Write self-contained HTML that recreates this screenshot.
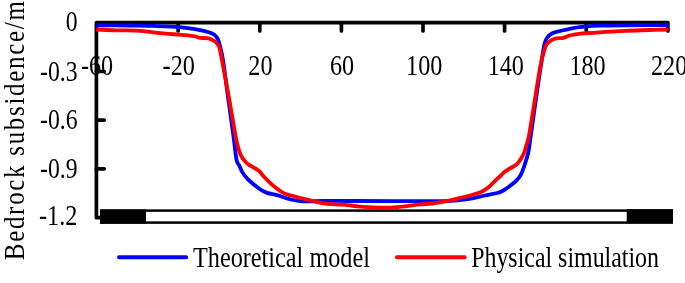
<!DOCTYPE html>
<html><head><meta charset="utf-8"><title>Bedrock subsidence</title>
<style>
html,body{margin:0;padding:0;background:#fff;}
svg{display:block;}
text{font-family:"Liberation Serif","Times New Roman",serif;font-size:30.2px;fill:#000;}
text.lg{font-size:29px;}
</style></head><body>
<svg width="685" height="283" viewBox="0 0 685 283">
<rect width="685" height="283" fill="#fff"/>
<g stroke="#000" stroke-width="3.7" stroke-linecap="butt" stroke-linejoin="miter" fill="none">
<path d="M104.2 217.7H96.4V22.6H667.9V30.9" stroke-linejoin="round" stroke-linecap="round"/>
<line x1="178.1" y1="22.9" x2="178.1" y2="30.9" stroke-linecap="round"/><line x1="259.8" y1="22.9" x2="259.8" y2="30.9" stroke-linecap="round"/><line x1="341.4" y1="22.9" x2="341.4" y2="30.9" stroke-linecap="round"/><line x1="423.0" y1="22.9" x2="423.0" y2="30.9" stroke-linecap="round"/><line x1="504.6" y1="22.9" x2="504.6" y2="30.9" stroke-linecap="round"/><line x1="586.3" y1="22.9" x2="586.3" y2="30.9" stroke-linecap="round"/><line x1="96.4" y1="71.5" x2="104.2" y2="71.5" stroke-linecap="round"/><line x1="96.4" y1="120.1" x2="104.2" y2="120.1" stroke-linecap="round"/><line x1="96.4" y1="168.8" x2="104.2" y2="168.8" stroke-linecap="round"/>
</g>
<rect x="101.2" y="210.6" width="570.5" height="12" fill="#fff" stroke="#000" stroke-width="2.5"/>
<rect x="100" y="209.5" width="46" height="14" fill="#000"/>
<rect x="626.7" y="209.2" width="46.3" height="14.0" fill="#000"/>
<path d="M96.4 25.3C102.0 25.3 120.5 25.4 130.0 25.5C139.5 25.6 145.4 25.6 153.6 25.9C161.8 26.2 171.9 26.5 179.0 27.1C186.1 27.7 191.2 28.6 196.0 29.4C200.8 30.2 205.0 31.1 208.0 32.0C211.0 32.9 212.4 33.4 214.0 34.5C215.6 35.6 216.5 36.6 217.5 38.5C218.5 40.4 219.0 42.1 220.0 46.0C221.0 49.9 221.9 53.0 223.3 62.0C224.7 71.0 226.7 87.8 228.4 100.0C230.1 112.2 232.0 125.0 233.3 135.0C234.7 144.9 235.5 154.6 236.5 159.7C237.5 164.8 238.3 163.4 239.3 165.5C240.3 167.6 241.1 170.2 242.4 172.4C243.7 174.6 245.5 176.6 247.3 178.6C249.2 180.6 251.2 182.3 253.5 184.2C255.8 186.1 258.7 188.4 261.0 189.8C263.3 191.2 264.9 192.1 267.2 192.9C269.5 193.7 272.3 194.1 274.6 194.6C276.9 195.1 278.3 195.4 280.8 196.2C283.3 197.0 286.1 198.3 289.7 199.2C293.3 200.1 296.7 201.1 302.3 201.4C307.9 201.7 315.4 201.1 323.4 201.0C331.3 200.9 330.3 201.0 350.0 201.0C369.7 201.0 423.3 201.2 441.5 201.1C459.7 200.9 454.1 200.5 459.2 200.1C464.3 199.7 468.1 199.2 472.4 198.4C476.7 197.6 480.7 196.4 484.8 195.5C488.9 194.6 494.1 193.8 497.2 193.0C500.3 192.2 501.3 191.6 503.4 190.5C505.5 189.4 507.5 187.8 509.6 186.2C511.7 184.6 513.9 183.0 515.8 181.1C517.7 179.2 519.4 177.4 520.8 174.9C522.2 172.4 523.3 168.7 524.3 166.0C525.2 163.3 525.8 161.5 526.5 159.0C527.2 156.5 527.9 154.9 528.6 150.9C529.3 146.9 529.7 143.5 530.9 135.0C532.1 126.5 534.1 111.7 535.8 100.0C537.5 88.3 539.6 74.2 541.0 65.0C542.4 55.8 543.4 49.0 544.4 44.5C545.4 40.0 545.7 39.9 547.0 38.0C548.3 36.1 549.8 34.5 552.3 33.3C554.8 32.0 558.5 31.4 562.2 30.5C565.9 29.6 570.5 28.6 574.6 27.9C578.7 27.2 582.9 26.8 587.0 26.4C591.1 26.0 593.1 25.9 599.4 25.7C605.7 25.5 613.2 25.4 624.7 25.3C636.2 25.2 661.3 25.2 668.6 25.2" fill="none" stroke="#0000ff" stroke-width="3.8" stroke-linejoin="round" stroke-linecap="butt"/>
<path d="M96.4 29.5C99.6 29.6 108.7 30.1 115.4 30.3C122.1 30.5 131.7 30.4 136.6 30.6C141.5 30.8 142.2 31.0 145.0 31.3C147.8 31.6 150.1 31.9 153.6 32.3C157.1 32.7 161.8 33.2 166.0 33.6C170.2 34.0 174.4 34.3 179.0 34.7C183.6 35.1 190.3 35.7 193.8 36.2C197.3 36.7 197.7 37.5 200.2 37.9C202.7 38.2 206.1 37.7 208.6 38.3C211.1 38.9 213.4 40.4 215.0 41.5C216.6 42.6 217.1 43.2 218.0 45.0C218.9 46.8 218.6 43.2 220.4 52.0C222.2 60.8 226.4 83.7 229.0 98.0C231.6 112.3 234.3 129.2 236.0 138.0C237.7 146.8 238.3 147.8 239.2 150.9C240.1 154.0 240.5 154.7 241.5 156.5C242.5 158.3 244.1 160.2 245.3 161.5C246.5 162.8 246.4 163.1 248.6 164.6C250.8 166.1 256.0 168.7 258.5 170.6C261.0 172.5 261.4 174.0 263.5 176.2C265.6 178.4 268.6 181.5 270.9 183.6C273.2 185.7 275.0 187.0 277.1 188.6C279.2 190.2 281.2 191.8 283.3 192.9C285.4 194.0 287.4 194.5 290.0 195.3C292.6 196.1 295.1 196.6 298.6 197.5C302.1 198.4 306.9 199.5 311.0 200.5C315.1 201.5 319.3 202.8 323.4 203.4C327.5 204.1 331.7 204.1 335.8 204.4C339.9 204.7 344.2 204.8 348.2 205.2C352.2 205.6 354.4 206.2 360.0 206.6C365.6 207.0 375.3 207.7 382.0 207.7C388.7 207.7 393.7 207.4 400.0 206.8C406.3 206.2 414.6 205.0 420.0 204.4C425.4 203.8 427.6 204.2 432.7 203.5C437.8 202.8 445.8 201.3 450.3 200.4C454.9 199.5 456.3 198.8 460.0 197.9C463.7 197.0 468.9 195.8 472.4 194.8C475.9 193.8 478.4 193.2 481.1 192.0C483.8 190.8 486.0 189.3 488.5 187.3C491.0 185.3 493.9 181.9 496.0 179.9C498.1 177.9 499.4 176.8 500.9 175.5C502.3 174.2 503.2 172.9 504.7 171.8C506.1 170.7 507.8 169.8 509.6 168.7C511.5 167.6 514.1 166.3 515.8 165.0C517.5 163.7 518.5 162.5 519.8 160.6C521.1 158.7 522.7 156.1 523.8 153.6C524.9 151.1 525.4 148.7 526.3 145.6C527.2 142.5 527.7 142.6 529.1 135.0C530.5 127.4 532.9 111.7 534.8 100.0C536.7 88.3 538.9 73.6 540.6 65.0C542.3 56.4 543.8 52.0 544.9 48.5C546.0 45.0 546.1 45.1 547.0 43.8C547.9 42.5 549.0 41.7 550.5 40.8C552.0 39.9 553.8 38.8 556.0 38.3C558.2 37.8 561.2 38.3 563.5 37.8C565.8 37.3 566.8 36.2 569.7 35.5C572.6 34.8 576.9 34.2 580.8 33.7C584.7 33.2 588.3 33.1 593.2 32.8C598.1 32.5 604.7 32.0 610.0 31.7C615.3 31.4 618.2 31.1 624.8 30.8C631.4 30.5 642.3 30.2 649.6 30.0C656.9 29.8 665.4 29.6 668.6 29.5" fill="none" stroke="#ff0000" stroke-width="3.8" stroke-linejoin="round" stroke-linecap="butt"/>
<line x1="119.0" y1="257.2" x2="186.2" y2="257.2" stroke="#0000ff" stroke-width="3.9" stroke-linecap="round"/>
<line x1="396.9" y1="257.2" x2="464.7" y2="257.2" stroke="#ff0000" stroke-width="3.9" stroke-linecap="round"/>
<text transform="translate(97.1 75.0) scale(0.800 1)" text-anchor="middle" >-60</text><text transform="translate(178.7 75.0) scale(0.800 1)" text-anchor="middle" >-20</text><text transform="translate(260.4 75.0) scale(0.800 1)" text-anchor="middle" >20</text><text transform="translate(342.0 75.0) scale(0.800 1)" text-anchor="middle" >60</text><text transform="translate(424.2 75.0) scale(0.800 1)" text-anchor="middle" >100</text><text transform="translate(505.8 75.0) scale(0.800 1)" text-anchor="middle" >140</text><text transform="translate(587.5 75.0) scale(0.800 1)" text-anchor="middle" >180</text><text transform="translate(669.1 75.0) scale(0.800 1)" text-anchor="middle" >220</text><text transform="translate(77.5 31.0) scale(0.785 1)" text-anchor="end" >0</text><text transform="translate(77.5 80.5) scale(0.785 1)" text-anchor="end" >-0.3</text><text transform="translate(77.5 129.1) scale(0.785 1)" text-anchor="end" >-0.6</text><text transform="translate(77.5 177.7) scale(0.785 1)" text-anchor="end" >-0.9</text><text transform="translate(77.5 225.4) scale(0.845 1)" text-anchor="end" style="font-size:28.8px">-1.2</text>
<text transform="translate(193.0 266.6) scale(0.836 1)" text-anchor="start" class="lg">Theoretical model</text>
<text transform="translate(471.2 266.6) scale(0.824 1)" text-anchor="start" class="lg">Physical simulation</text>
<text class="lg" transform="translate(23.8 260.2) rotate(-90) scale(0.86 1)" letter-spacing="2.0">Bedrock subsidence/m</text>
</svg>
</body></html>
